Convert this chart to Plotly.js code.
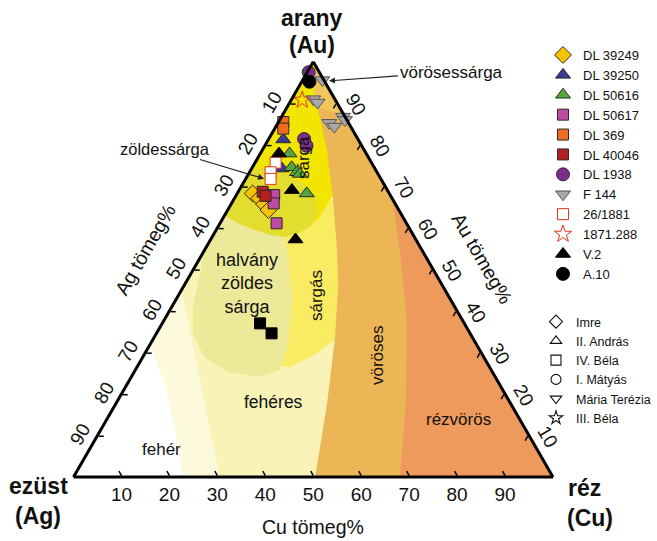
<!DOCTYPE html>
<html><head><meta charset="utf-8">
<script src="https://cdn.plot.ly/plotly-3.0.1.min.js"></script>
<style>html,body{margin:0;padding:0;background:#fff}#chart{width:657px;height:541px}</style>
</head><body><div id="chart"></div>
<script>
// ---- sample data (weight %) : Au, Ag, Cu ----
const dl39249_au = [68.3, 67.1, 65.7, 64.3], dl39249_ag = [28.5, 27.7, 27.4, 27.2], dl39249_cu = [3.2, 5.2, 6.9, 8.5];
const dl39250_au = [81.3, 74.3], dl39250_ag = [15.6, 19.4], dl39250_cu = [3.1, 6.3];
const dl50616_au = [77.9, 74.6, 73.4, 73.0, 68.3], dl50616_ag = [16.0, 17.2, 16.7, 16.3, 17.2], dl50616_cu = [6.1, 8.2, 9.9, 10.7, 14.5];
const dl50617_au = [67.9, 65.9, 61.1], dl50617_ag = [24.2, 25.3, 27.1], dl50617_cu = [7.9, 8.8, 11.8];
const dl369_au = [85.5, 83.9], dl369_ag = [13.5, 14.3], dl369_cu = [1.0, 1.8];
const dl40046_au = [68.7, 67.7], dl40046_ag = [26.2, 26.1], dl40046_cu = [5.1, 6.2];
const dl1938_au = [97.5, 81.4, 79.8], dl1938_ag = [2.2, 11.2, 11.5], dl1938_cu = [0.3, 7.4, 8.7];
const f144_au = [95.6, 91.0, 90.2, 86.8, 86.0, 85.3, 84.4], f144_ag = [0.3, 4.5, 4.0, 0.4, 0.4, 4.0, 3.4], f144_cu = [4.1, 4.5, 5.8, 12.8, 13.6, 10.7, 12.2];
const s26_1881_au = [75.7, 73.4, 71.8], s26_1881_ag = [20.0, 22.2, 23.0], s26_1881_cu = [4.3, 4.4, 5.2];
const s1871_au = [90.8], s1871_ag = [6.9], s1871_cu = [2.3];
const v2_au = [77.9, 69.1, 57.2], v2_ag = [18.2, 19.9, 25.1], v2_cu = [3.9, 11.0, 17.7];
const a10_au = [95.2], a10_ag = [3.2], a10_cu = [1.6];
const blacksq_au = [37.0, 34.6], blacksq_ag = [42.6, 41.4], blacksq_cu = [20.4, 24.0];

// ---- colour-field boundaries (weight %) ----
const pale_au = [31.8, 22.2, 11.3, 0, 0, 100, 31.8], pale_ag = [68.2, 69.8, 73.2, 77.2, 0, 0, 68.2], pale_cu = [0, 8.0, 15.5, 22.8, 100, 0, 0];
const cream_au = [45.0, 35.4, 23.4, 11.3, 0, 0, 100, 45.0], cream_ag = [55.0, 58.0, 61.9, 65.9, 69.5, 0, 0, 55.0], cream_cu = [0, 6.6, 14.7, 22.8, 30.5, 100, 0, 0];
const sargas_au = [33.7, 33.0, 29.1, 26.5, 26.7, 59.5, 66.7, 66.7, 33.7], sargas_ag = [26.5, 29.0, 35.7, 41.6, 43.2, 26.6, 21.5, 9.0, 26.5], sargas_cu = [39.8, 38.0, 35.2, 31.9, 30.1, 13.9, 11.8, 24.3, 39.8];
const halvany_au = [62.0, 54.0, 48.6, 41.4, 34.2, 28.7, 25.3, 24.1, 25.8, 31.8, 42.6, 52.3, 58.3, 63.1, 62.0];
const halvany_ag = [38.0, 46.0, 49.3, 54.4, 58.0, 58.2, 55.1, 49.5, 44.0, 39.4, 33.1, 28.9, 27.0, 25.4, 38.0];
const halvany_cu = [0, 0, 2.1, 4.2, 7.8, 13.1, 19.6, 26.4, 30.2, 28.8, 24.3, 18.8, 14.8, 11.5, 0];
const sarga_au = [100, 70.0, 66.7, 61.4, 59.5, 61.9, 67.9, 73.9, 90.8, 100];
const sarga_ag = [0, 30.0, 26.7, 25.6, 23.0, 18.1, 11.9, 7.5, 1.1, 0];
const sarga_cu = [0, 0, 6.6, 13.0, 17.5, 20.0, 20.2, 18.6, 8.1, 0];
const zold_au = [73.9, 62.9, 60.9, 59.5, 58.3, 57.8, 58.8, 60.7, 63.8, 67.2, 70.3, 73.2, 74.4, 73.9];
const zold_ag = [26.1, 37.1, 34.8, 32.4, 29.9, 27.0, 23.4, 19.9, 17.1, 15.8, 16.6, 19.3, 22.9, 26.1];
const zold_cu = [0, 0, 4.3, 8.1, 11.8, 15.2, 17.8, 19.4, 19.1, 17.0, 13.1, 7.5, 2.7, 0];
const voros_au = [97.0, 88.4, 78.7, 66.7, 54.7, 46.2, 33.7, 17.8, 0, 0, 97.5, 97.0];
const voros_ag = [1.5, 4.8, 7.8, 12.5, 17.7, 21.7, 28.6, 38.2, 49.6, 0, 0, 1.5];
const voros_cu = [1.5, 6.8, 13.5, 20.8, 27.6, 32.1, 37.7, 44.0, 50.4, 100, 2.5, 1.5];
const vsarga_au = [97.5, 89.1, 87.0, 97.5], vsarga_ag = [1.5, 4.7, 0, 0], vsarga_cu = [1.0, 6.2, 13.0, 2.5];
const rez_au = [67.0, 0, 0, 18.5, 37.8, 54.7, 67.0], rez_ag = [0, 0, 31.9, 21.4, 11.6, 4.6, 0], rez_cu = [33.0, 100, 68.1, 60.1, 50.6, 40.8, 33.0];

// ---- axis ticks ----
const tickVals = [10, 20, 30, 40, 50, 60, 70, 80, 90];
const tickText = ['90', '80', '70', '60', '50', '40', '30', '20', '10'];

const FONT = 'Liberation Sans, Arial, Helvetica, sans-serif';
const W = 657, H = 541;
const px = x => x / W, py = y => 1 - y / H;
const NB = '\u00a0';

function field(au, ag, cu, color) {
  return {type: 'scatterternary', mode: 'lines', a: au, b: ag, c: cu, fill: 'toself',
    fillcolor: color, line: {width: 0, color: color}, hoverinfo: 'skip', showlegend: false};
}
const traces = [
  field(pale_au, pale_ag, pale_cu, '#FCF9DD'),
  field(cream_au, cream_ag, cream_cu, '#F9F3B8'),
  field(sargas_au, sargas_ag, sargas_cu, '#F9EC62'),
  field(halvany_au, halvany_ag, halvany_cu, '#ECE999'),
  field(sarga_au, sarga_ag, sarga_cu, '#F2E600'),
  field(zold_au, zold_ag, zold_cu, '#E2DD2E'),
  field(voros_au, voros_ag, voros_cu, '#ECB556'),
  field(vsarga_au, vsarga_ag, vsarga_cu, '#F1C65C'),
  field(rez_au, rez_ag, rez_cu, '#EE9A5C')
];

// shape legend (legend2): one placeholder null point each so the entry is kept
const shapeNames = ['Imre', 'II. András', 'IV. Béla', 'I. Mátyás', 'Mária Terézia', 'III. Béla'];
const shapeSymbols = ['diamond-open', 'triangle-up-open', 'square-open', 'circle-open', 'triangle-down-open', 'star-open'];
shapeNames.forEach((n, i) => traces.push({type: 'scatterternary', mode: 'markers', a: [null], b: [null], c: [null], name: n,
  legend: 'legend2', hoverinfo: 'skip', marker: {symbol: shapeSymbols[i], size: 10, color: '#111', line: {width: 1.1, color: '#111'}}}));

function pts(name, au, ag, cu, symbol, color, size, lineColor, show) {
  return {type: 'scatterternary', mode: 'markers', a: au, b: ag, c: cu, name: name, cliponaxis: false,
    showlegend: show !== false, legend: 'legend',
    marker: {symbol: symbol, size: size, color: color, line: {width: 1, color: lineColor || '#2a2a2a'}}};
}
traces.push(
  pts('blacksq', blacksq_au, blacksq_ag, blacksq_cu, 'square', '#000', 11, '#000', false),
  pts('DL 39249', dl39249_au, dl39249_ag, dl39249_cu, 'diamond', '#F6C200', 13),
  pts('DL 39250', dl39250_au, dl39250_ag, dl39250_cu, 'triangle-up', '#3C3893', 13),
  pts('DL 50616', dl50616_au, dl50616_ag, dl50616_cu, 'triangle-up', '#52A63A', 13),
  pts('DL 50617', dl50617_au, dl50617_ag, dl50617_cu, 'square', '#C04BA6', 11),
  pts('DL 369', dl369_au, dl369_ag, dl369_cu, 'square', '#EE6B1F', 11),
  pts('DL 40046', dl40046_au, dl40046_ag, dl40046_cu, 'square', '#B5201F', 11),
  pts('DL 1938', dl1938_au, dl1938_ag, dl1938_cu, 'circle', '#7B2D8E', 13),
  pts('F 144', f144_au, f144_ag, f144_cu, 'triangle-down', '#A8A8A8', 13, '#555'),
  pts('26/1881', s26_1881_au, s26_1881_ag, s26_1881_cu, 'square', '#FFFFFF', 11, '#E4341E'),
  pts('1871.288', s1871_au, s1871_ag, s1871_cu, 'star-open', '#E4341E', 13, '#E4341E'),
  pts('V.2', v2_au, v2_ag, v2_cu, 'triangle-up', '#000', 13, '#000'),
  pts('A.10', a10_au, a10_ag, a10_cu, 'circle', '#000', 13, '#000')
);

function axis(angle, texts) {
  return {tickmode: 'array', tickvals: tickVals, ticktext: texts, ticks: 'inside', ticklen: 5,
    tickwidth: 1.5, tickcolor: '#000', linewidth: 3, linecolor: '#000', showgrid: false, showline: true,
    tickfont: {family: FONT, size: 19, color: '#111'}, tickangle: angle, title: {text: ''}, min: 0};
}

function ann(text, x, y, size, opts) {
  return Object.assign({text: text, x: px(x), y: py(y), xref: 'paper', yref: 'paper', showarrow: false,
    xanchor: 'center', yanchor: 'middle', font: {family: FONT, size: size, color: '#111'}}, opts || {});
}
const annotations = [
  ann('<b>arany</b>', 312, 18, 23), ann('<b>(Au)</b>', 312, 45, 23),
  ann('<b>ezüst</b>', 38, 486, 23), ann('<b>(Ag)</b>', 38, 516, 23),
  ann('<b>réz</b>', 584, 488, 23), ann('<b>(Cu)</b>', 590, 518, 23),
  ann('Cu tömeg%', 313, 527, 19.5),
  ann('Ag tömeg%', 145, 250, 19.5, {textangle: -60}),
  ann('Au tömeg%', 482, 258, 19.5, {textangle: 60}),
  ann('halvány<br>zöldes<br>sárga', 247, 283, 18),
  ann('sárgás', 316, 296, 17, {textangle: -90}),
  ann('sárga', 304, 158, 17, {textangle: -90}),
  ann('vöröses', 377, 355, 17, {textangle: -90}),
  ann('fehéres', 273, 402, 17.5),
  ann('fehér', 161, 449, 17),
  ann('rézvörös', 458, 420, 17),
  {text: 'vörösessárga', x: px(327), y: py(81), xref: 'paper', yref: 'paper', showarrow: true,
    ax: 124, ay: -9, arrowhead: 2, arrowsize: 1, arrowwidth: 1.2, arrowcolor: '#222', standoff: 2,
    font: {family: FONT, size: 17, color: '#111'}},
  {text: 'zöldessárga', x: px(265), y: py(179), xref: 'paper', yref: 'paper', showarrow: true,
    ax: -100, ay: -30, arrowhead: 2, arrowsize: 1, arrowwidth: 1.2, arrowcolor: '#222', standoff: 1,
    font: {family: FONT, size: 16.5, color: '#111'}}
];

const layout = {
  width: W, height: H, margin: {l: 0, r: 0, t: 0, b: 0, autoexpand: false}, paper_bgcolor: '#fff',
  font: {family: FONT, color: '#111'},
  ternary: {sum: 100, bgcolor: 'rgba(0,0,0,0)',
    domain: {x: [73.5 / W, 553 / W], y: [1 - 477 / H, 1 - 61.8 / H]},
    aaxis: axis(-60, tickText.map(t => t + NB + NB + NB + NB)),
    baxis: axis(0, tickText),
    caxis: axis(60, tickText.map(t => NB + NB + NB + NB + NB + t))},
  legend: {x: px(543), y: py(40), xanchor: 'left', yanchor: 'top', font: {family: FONT, size: 13, color: '#111'},
    bgcolor: 'rgba(0,0,0,0)', tracegroupgap: 0, itemwidth: 30},
  legend2: {x: px(536), y: py(307), xanchor: 'left', yanchor: 'top', font: {family: FONT, size: 12.5, color: '#111'},
    bgcolor: 'rgba(0,0,0,0)', tracegroupgap: 0, itemwidth: 30},
  annotations: annotations,
  showlegend: true
};
Plotly.newPlot('chart', traces, layout, {displayModeBar: false, staticPlot: true});
</script></body></html>
